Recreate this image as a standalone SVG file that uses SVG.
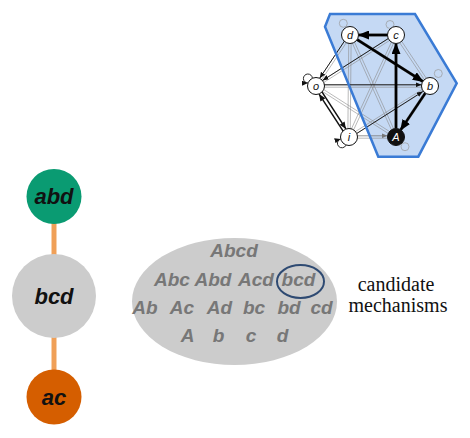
<svg xmlns="http://www.w3.org/2000/svg" width="470" height="438" viewBox="0 0 470 438">
<style>
.big{font-family:"Liberation Sans",Arial,sans-serif;font-weight:bold;font-style:italic;font-size:22px;fill:#111;text-anchor:middle}
.set{font-family:"Liberation Sans",Arial,sans-serif;font-weight:bold;font-style:italic;font-size:19px;fill:#777;text-anchor:middle}
.cap{font-family:"Liberation Serif","Times New Roman",serif;font-size:20px;fill:#111;text-anchor:middle}
.nl{font-family:"Liberation Sans",Arial,sans-serif;font-style:italic;font-size:11px;fill:#111;text-anchor:middle}
.g{stroke:#8c8c8c;stroke-width:0.6;fill:none}
.bk{stroke:#111;stroke-width:0.9;fill:none}
.thick{stroke:#000;stroke-width:2.6;fill:none}
.med{stroke:#111;stroke-width:1.5;fill:none}
.loop{stroke:#999;stroke-width:0.7;fill:none}
.nd{fill:#fff;stroke:#111;stroke-width:1}
.link{stroke:#f0a058;stroke-width:5}
</style>
<defs>
<marker id="ah" markerUnits="userSpaceOnUse" markerWidth="11" markerHeight="9" refX="10" refY="4.5" orient="auto"><path d="M0,0 L11,4.5 L0,9 z" fill="#000"/></marker>
<marker id="am" markerUnits="userSpaceOnUse" markerWidth="7" markerHeight="6" refX="7" refY="3" orient="auto"><path d="M0,0 L7,3 L0,6 z" fill="#111"/></marker>
<marker id="as" markerUnits="userSpaceOnUse" markerWidth="6" markerHeight="5" refX="6" refY="2.5" orient="auto"><path d="M0,0 L6,2.5 L0,5 z" fill="#111"/></marker>
<marker id="ag" markerUnits="userSpaceOnUse" markerWidth="6" markerHeight="5" refX="6" refY="2.5" orient="auto"><path d="M0,0 L6,2.5 L0,5 z" fill="#777"/></marker>
</defs>

<g id="connectors">
<line class="link" x1="54" y1="222" x2="54" y2="256"/>
<line class="link" x1="54" y1="336" x2="54" y2="372"/>
</g>

<g id="node-abd">
<circle cx="54" cy="196.5" r="27.5" fill="#0a9b72"/>
<text class="big" x="54" y="204">abd</text>
</g>
<g id="node-bcd">
<circle cx="54" cy="296" r="42" fill="#cccccc"/>
<text class="big" x="54" y="304">bcd</text>
</g>
<g id="node-ac">
<circle cx="54" cy="397" r="27.5" fill="#d55e00"/>
<text class="big" x="54" y="405">ac</text>
</g>

<g id="candidate-set">
<ellipse cx="234.5" cy="301.5" rx="102.5" ry="63.5" fill="#cccccc"/>
<text class="set" x="234" y="257">Abcd</text>
<text class="set" x="172" y="286">Abc</text>
<text class="set" x="213" y="286">Abd</text>
<text class="set" x="256" y="286">Acd</text>
<text class="set" x="298.5" y="286">bcd</text>
<text class="set" x="145" y="314">Ab</text>
<text class="set" x="182" y="314">Ac</text>
<text class="set" x="219.5" y="314">Ad</text>
<text class="set" x="254" y="314">bc</text>
<text class="set" x="289" y="314">bd</text>
<text class="set" x="321.5" y="314">cd</text>
<text class="set" x="187.5" y="342">A</text>
<text class="set" x="218.5" y="342">b</text>
<text class="set" x="251" y="342">c</text>
<text class="set" x="282.5" y="342">d</text>
<ellipse cx="300.5" cy="281.5" rx="23.5" ry="16.5" fill="none" stroke="#2e4a72" stroke-width="2"/>
</g>

<g id="caption">
<text class="cap" x="396" y="291">candidate</text>
<text class="cap" x="398" y="312">mechanisms</text>
</g>

<g id="network">
<polygon points="330,14 415,14 456.7,83.3 418.3,156.7 378.3,156.7 325,26.7" fill="#c5d9f4"/>
<g id="net-edges">
<!-- thin grey double lines for every pair -->
<line class="g" x1="350" y1="36.2" x2="396" y2="36.2"/><line class="g" x1="350" y1="33.8" x2="396" y2="33.8"/>
<line class="g" x1="349" y1="34.3" x2="315" y2="85.3"/><line class="g" x1="351" y1="35.7" x2="317" y2="86.7"/>
<line class="g" x1="349.4" y1="36" x2="429.4" y2="87"/><line class="g" x1="350.6" y1="34" x2="430.6" y2="85"/>
<line class="g" x1="348.8" y1="35" x2="347.8" y2="137"/><line class="g" x1="351.2" y1="35" x2="350.2" y2="137"/>
<line class="g" x1="348.9" y1="35.5" x2="394.9" y2="137.5"/><line class="g" x1="351.1" y1="34.5" x2="397.1" y2="136.5"/>
<line class="g" x1="395.4" y1="34" x2="315.4" y2="85"/><line class="g" x1="396.6" y1="36" x2="316.6" y2="87"/>
<line class="g" x1="395" y1="35.7" x2="429" y2="86.7"/><line class="g" x1="397" y1="34.3" x2="431" y2="85.3"/>
<line class="g" x1="394.9" y1="34.5" x2="347.9" y2="136.5"/><line class="g" x1="397.1" y1="35.5" x2="350.1" y2="137.5"/>
<line class="g" x1="394.8" y1="35" x2="394.8" y2="137"/><line class="g" x1="397.2" y1="35" x2="397.2" y2="137"/>
<line class="g" x1="316" y1="87.2" x2="430" y2="87.2"/><line class="g" x1="316" y1="84.8" x2="430" y2="84.8"/>
<line class="g" x1="315.4" y1="87" x2="395.4" y2="138"/><line class="g" x1="316.6" y1="85" x2="396.6" y2="136"/>
<line class="g" x1="429.4" y1="85" x2="348.4" y2="136"/><line class="g" x1="430.6" y1="87" x2="349.6" y2="138"/>
<line class="g" x1="429" y1="85.3" x2="395" y2="136.3"/><line class="g" x1="431" y1="86.7" x2="397" y2="137.7"/>
<line class="g" x1="349" y1="138.2" x2="396" y2="138.2"/>
<!-- thin black arrows -->
<line class="bk" x1="349" y1="34.3" x2="319.7" y2="78.2" marker-end="url(#as)"/>
<line class="bk" x1="395.4" y1="34" x2="322.6" y2="80.4" marker-end="url(#as)"/>
<line class="bk" x1="316" y1="84.8" x2="421.5" y2="84.8" marker-end="url(#as)"/>
<line class="bk" x1="349.6" y1="138" x2="422.8" y2="91.5" marker-end="url(#as)"/>
<line stroke="#777" stroke-width="0.8" x1="349" y1="135.8" x2="387.5" y2="135.8" marker-end="url(#ag)"/>
<!-- medium o<->i -->
<line class="med" x1="322.1" y1="92.1" x2="345.9" y2="128.9" marker-end="url(#am)"/>
<line class="med" x1="343" y1="130.9" x2="319.1" y2="94.1" marker-end="url(#am)"/>
<!-- thick arrows -->
<line class="thick" x1="387.5" y1="35" x2="359" y2="35" marker-end="url(#ah)"/>
<line class="thick" x1="357.2" y1="39.6" x2="422.8" y2="81.4" marker-end="url(#ah)"/>
<line class="thick" x1="396" y1="128.5" x2="396" y2="44" marker-end="url(#ah)"/>
<line class="thick" x1="425.3" y1="93.1" x2="400.7" y2="129.9" marker-end="url(#ah)"/>
<!-- self loops -->
<circle class="loop" cx="343.3" cy="23.3" r="4"/>
<circle class="loop" cx="390" cy="24.5" r="4"/>
<circle class="loop" cx="438.3" cy="73.5" r="4"/>
<circle class="loop" cx="405" cy="146.7" r="4"/>
<path class="bk" d="M312.4,78.3 A4.5,4.5 0 1 0 308,83" marker-end="url(#as)"/>
<path class="bk" d="M346,145.2 A4.5,4.5 0 1 1 340.6,139" marker-end="url(#as)"/>
</g>
<polygon points="330,14 415,14 456.7,83.3 418.3,156.7 378.3,156.7 325,26.7" fill="none" stroke="#3a7bd5" stroke-width="2.5" stroke-linejoin="miter"/>
<g id="net-d"><circle class="nd" cx="350" cy="35" r="8.5"/><text class="nl" x="350" y="39">d</text></g>
<g id="net-c"><circle class="nd" cx="396" cy="35" r="8.5"/><text class="nl" x="396" y="39">c</text></g>
<g id="net-o"><circle class="nd" cx="316" cy="86" r="8.5"/><text class="nl" x="316" y="90">o</text></g>
<g id="net-b"><circle class="nd" cx="430" cy="86" r="8.5"/><text class="nl" x="430" y="90">b</text></g>
<g id="net-i"><circle class="nd" cx="349" cy="137" r="8.5"/><text class="nl" x="349" y="141">i</text></g>
<g id="net-A"><circle cx="396" cy="137" r="8.5" fill="#111" stroke="#111"/><text class="nl" x="396" y="141" style="fill:#fff">A</text></g>
</g>
</svg>
